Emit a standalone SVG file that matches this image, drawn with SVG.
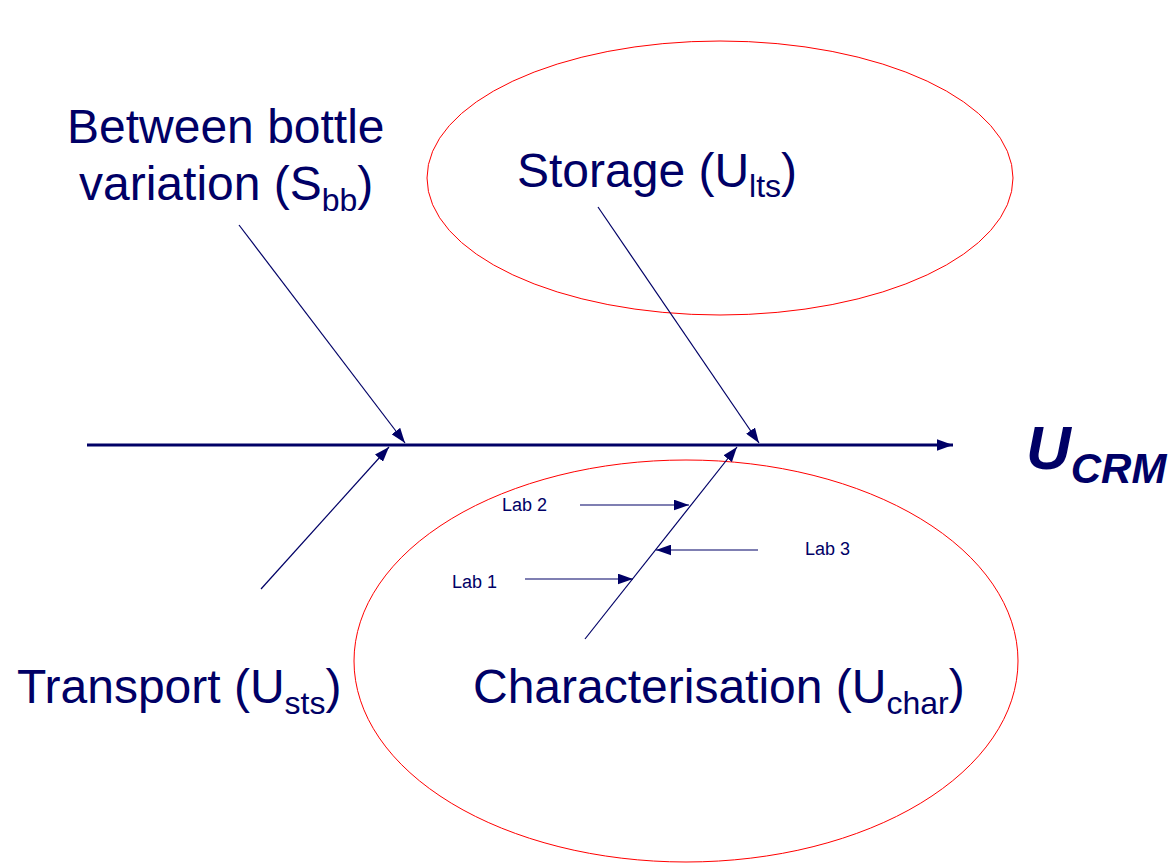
<svg xmlns="http://www.w3.org/2000/svg" width="1171" height="864" viewBox="0 0 1171 864">
<style>
.t{font-family:"Liberation Sans",Arial,sans-serif;fill:#000066}
.big{font-size:48px}
.lab{font-size:18px}
.br{stroke:#000066;stroke-width:1.2;fill:none}
.ell{fill:none;stroke:#ff0000;stroke-width:1}
</style>
<defs>
<marker id="ah" viewBox="0 0 14 10" refX="14" refY="5" markerWidth="15" markerHeight="11" markerUnits="userSpaceOnUse" orient="auto">
<path d="M0,0 L14,5 L0,10 Z" fill="#000066"/>
</marker>
<marker id="ahm" viewBox="0 0 14 10" refX="14" refY="5" markerWidth="16" markerHeight="12" markerUnits="userSpaceOnUse" orient="auto">
<path d="M0,0 L14,5 L0,10 Z" fill="#000066"/>
</marker>
</defs>
<rect width="1171" height="864" fill="#ffffff"/>
<g id="ellipses">
<ellipse id="storage-ellipse" class="ell" cx="720" cy="178" rx="293" ry="137"/>
<ellipse id="char-ellipse" class="ell" cx="686" cy="661" rx="332" ry="201"/>
</g>
<g id="connectors">
<line x1="87" y1="445" x2="953" y2="445" stroke="#000066" stroke-width="3" marker-end="url(#ahm)"/>
<line class="br" x1="239" y1="225" x2="405" y2="443" marker-end="url(#ah)"/>
<line class="br" x1="598" y1="207" x2="759" y2="443" marker-end="url(#ah)"/>
<line class="br" x1="261" y1="589" x2="389" y2="447" marker-end="url(#ah)"/>
<line class="br" x1="585" y1="639" x2="737" y2="447" marker-end="url(#ah)"/>
<line class="br" x1="580" y1="505" x2="689" y2="505" marker-end="url(#ah)"/>
<line class="br" x1="758" y1="550" x2="656" y2="550" marker-end="url(#ah)"/>
<line class="br" x1="525" y1="579" x2="633" y2="579" marker-end="url(#ah)"/>
</g>
<g id="node-sbb">
<text class="t big" x="67" y="143">Between bottle</text>
<text class="t big" x="79" y="200">variation (S<tspan font-size="32" dy="11">bb</tspan><tspan dy="-11">)</tspan></text>
</g>
<g id="node-storage">
<text class="t big" x="517" y="187">Storage (U<tspan font-size="32" dy="10">lts</tspan><tspan dy="-10">)</tspan></text>
</g>
<g id="node-transport">
<text class="t big" x="17" y="703">Transport (U<tspan font-size="32" dy="11">sts</tspan><tspan dy="-11">)</tspan></text>
</g>
<g id="node-char">
<text class="t big" x="473" y="703">Characterisation (U<tspan font-size="32" dy="11">char</tspan><tspan dy="-11">)</tspan></text>
</g>
<g id="node-lab1"><text class="t lab" x="452" y="588">Lab 1</text></g>
<g id="node-lab2"><text class="t lab" x="502" y="511">Lab 2</text></g>
<g id="node-lab3"><text class="t lab" x="805" y="555">Lab 3</text></g>
<g id="node-ucrm">
<text class="t" x="1026" y="469" font-weight="bold" font-style="italic" font-size="62">U<tspan font-size="42" dy="14">CRM</tspan></text>
</g>
</svg>
